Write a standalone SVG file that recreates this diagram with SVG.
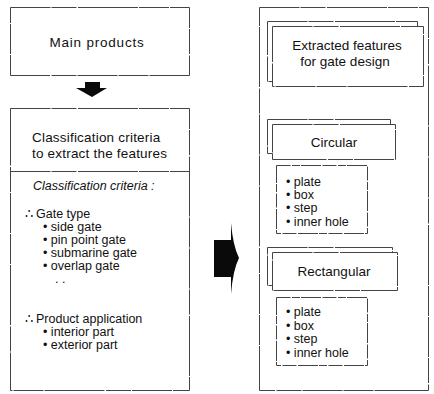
<svg xmlns="http://www.w3.org/2000/svg" width="434" height="394" viewBox="0 0 434 394">
  <style>
    .box { fill: #fff; stroke: #444; stroke-width: 1; stroke-dasharray: 40 1 25 1.5 60 1 30 1; }
    .lst { fill: #fff; stroke: #444; stroke-width: 1; stroke-dasharray: 14 1.5 8 1 20 1.5; }
    .t { font-family: "Liberation Sans", Arial, sans-serif; fill: #111; }
    .h { font-size: 13.5px; }
    .s { font-size: 12.5px; }
    .it { font-style: italic; }
    .mid { text-anchor: middle; }
    .arrow { fill: #0a0a0a; }
  </style>
  <rect width="434" height="394" fill="#fff"/>

  <!-- left column -->
  <g id="main-products">
    <rect class="box" x="10.5" y="7.5" width="179" height="68"/>
    <text class="t h mid" x="97" y="47" letter-spacing="0.8">Main products</text>
  </g>

  <g id="criteria">
    <rect class="box" x="10.5" y="108.5" width="179" height="282"/>
    <line class="box" x1="10.5" y1="171.5" x2="189.5" y2="171.5"/>
    <text class="t h" x="32" y="142" letter-spacing="0.2">Classification criteria</text>
    <text class="t h" x="32" y="158" letter-spacing="0.2">to extract the features</text>
    <text class="t s it" x="33" y="190">Classification criteria :</text>
    <text class="t s" x="25" y="218">∴</text>
    <text class="t s" x="36" y="218">Gate type</text>
    <text class="t s" x="43" y="231">• side gate</text>
    <text class="t s" x="43" y="244">• pin point gate</text>
    <text class="t s" x="43" y="257">• submarine gate</text>
    <text class="t s" x="43" y="270">• overlap gate</text>
    <text class="t s" x="55" y="283">. .</text>
    <text class="t s" x="25" y="323">∴</text>
    <text class="t s" x="36" y="323">Product application</text>
    <text class="t s" x="43" y="336">• interior part</text>
    <text class="t s" x="43" y="349">• exterior part</text>
  </g>

  <!-- right column -->
  <g id="features">
    <rect class="box" x="259.5" y="7.5" width="169" height="383"/>
  </g>

  <g id="extracted">
    <rect class="box" x="267.5" y="21.5" width="150" height="60"/>
    <rect class="box" x="272.5" y="26.5" width="151" height="60"/>
    <text class="t h mid" x="347" y="50">Extracted features</text>
    <text class="t h mid" x="345" y="66">for gate design</text>
  </g>

  <g id="circular">
    <rect class="box" x="267.5" y="119.5" width="123" height="34"/>
    <rect class="box" x="272.5" y="124.5" width="123" height="35"/>
    <text class="t h mid" x="334" y="147">Circular</text>
  </g>

  <g id="circular-list">
    <rect class="lst" x="276.5" y="165.5" width="91" height="68"/>
    <text class="t s" x="286" y="186">• plate</text>
    <text class="t s" x="286" y="199">• box</text>
    <text class="t s" x="286" y="212">• step</text>
    <text class="t s" x="286" y="226">• inner hole</text>
  </g>

  <g id="rectangular">
    <rect class="box" x="267.5" y="247.5" width="125" height="38"/>
    <rect class="box" x="272.5" y="252.5" width="125" height="38"/>
    <text class="t h mid" x="334" y="276">Rectangular</text>
  </g>

  <g id="rectangular-list">
    <rect class="lst" x="276.5" y="297.5" width="91" height="68"/>
    <text class="t s" x="286" y="316">• plate</text>
    <text class="t s" x="286" y="330">• box</text>
    <text class="t s" x="286" y="343">• step</text>
    <text class="t s" x="286" y="357">• inner hole</text>
  </g>

  <!-- connectors -->
  <g id="connectors">
    <path class="arrow" d="M85,82 H100 V88 H107 L92,97 L76,88 H85 Z"/>
    <path class="arrow" d="M214,240 H231 L231,223 Q233,246 239,258 Q233,270 231,294 L231,277 H214 Z"/>
  </g>
</svg>
